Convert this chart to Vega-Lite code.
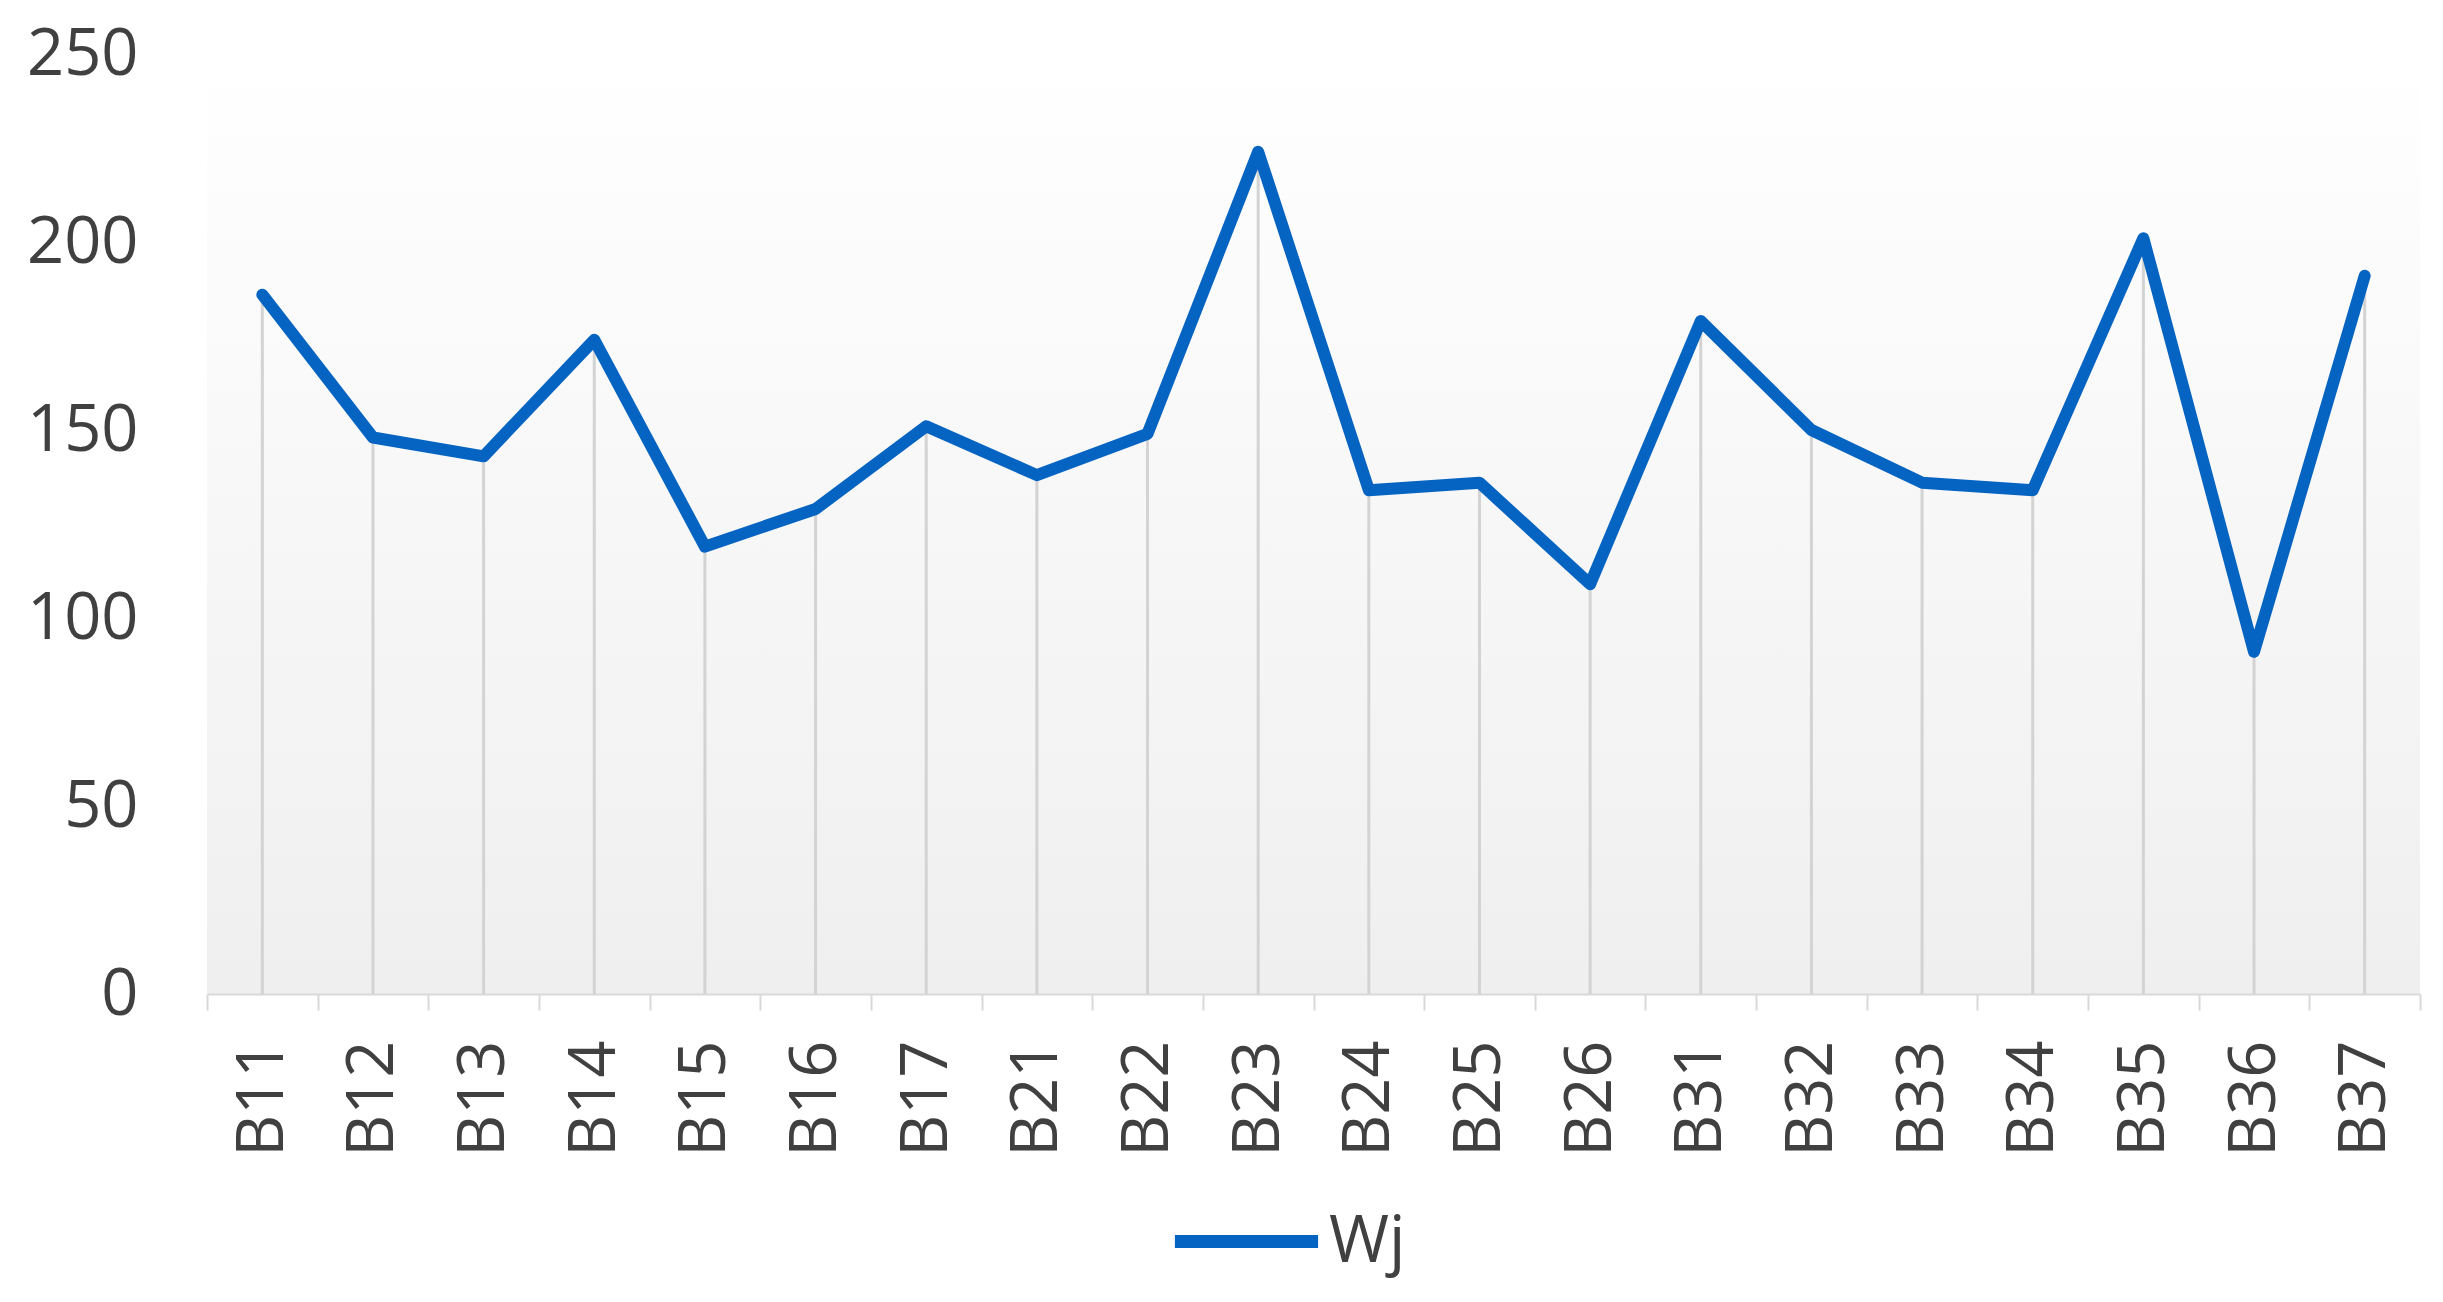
{
  "$schema": "https://vega.github.io/schema/vega-lite/v6.json",
  "autosize": "none",
  "width": 2213,
  "height": 940,
  "padding": {"left": 207, "top": 54, "right": 23, "bottom": 308},
  "background": "white",
  "config": {
    "view": {"stroke": null, "fill": {"gradient": "linear", "x1": 0, "y1": 0, "x2": 0, "y2": 1, "stops": [{"offset": 0, "color": "#ffffff"}, {"offset": 1, "color": "#efefef"}]}},
    "font": "Open Sans"
  },
  "data": {
    "values": [
      {"cat": "B11", "Wj": 186, "series": "Wj"},
      {"cat": "B12", "Wj": 148, "series": "Wj"},
      {"cat": "B13", "Wj": 143, "series": "Wj"},
      {"cat": "B14", "Wj": 174, "series": "Wj"},
      {"cat": "B15", "Wj": 119, "series": "Wj"},
      {"cat": "B16", "Wj": 129, "series": "Wj"},
      {"cat": "B17", "Wj": 151, "series": "Wj"},
      {"cat": "B21", "Wj": 138, "series": "Wj"},
      {"cat": "B22", "Wj": 149, "series": "Wj"},
      {"cat": "B23", "Wj": 224, "series": "Wj"},
      {"cat": "B24", "Wj": 134, "series": "Wj"},
      {"cat": "B25", "Wj": 136, "series": "Wj"},
      {"cat": "B26", "Wj": 109, "series": "Wj"},
      {"cat": "B31", "Wj": 179, "series": "Wj"},
      {"cat": "B32", "Wj": 150, "series": "Wj"},
      {"cat": "B33", "Wj": 136, "series": "Wj"},
      {"cat": "B34", "Wj": 134, "series": "Wj"},
      {"cat": "B35", "Wj": 201, "series": "Wj"},
      {"cat": "B36", "Wj": 91, "series": "Wj"},
      {"cat": "B37", "Wj": 191, "series": "Wj"}
    ]
  },
  "encoding": {
    "x": {
      "field": "cat", "type": "nominal", "sort": null, "title": null,
      "scale": {"type": "band", "paddingInner": 0, "paddingOuter": 0},
      "axis": {
        "labelAngle": -90, "labelAlign": "right", "labelBaseline": "middle",
        "labelFontSize": 65, "labelColor": "#404040", "labelFont": "Open Sans",
        "labelPadding": 30,
        "domainColor": "#d9d9d9", "domainWidth": 2,
        "tickColor": "#d9d9d9", "tickWidth": 2, "tickSize": 16,
        "tickBand": "extent", "grid": false
      }
    }
  },
  "layer": [
    {
      "mark": {"type": "rule", "color": "#d3d3d3", "strokeWidth": 3},
      "encoding": {
        "y": {"field": "Wj", "type": "quantitative"},
        "y2": {"datum": 0}
      }
    },
    {
      "mark": {"type": "line", "strokeWidth": 12, "strokeCap": "round", "strokeJoin": "round"},
      "encoding": {
        "y": {
          "field": "Wj", "type": "quantitative", "title": null,
          "scale": {"domain": [0, 250], "nice": false},
          "axis": {
            "values": [0, 50, 100, 150, 200, 250],
            "domain": false, "ticks": false, "grid": false,
            "labelFontSize": 65, "labelColor": "#404040", "labelFont": "Open Sans",
            "labelPadding": 69
          }
        },
        "color": {
          "field": "series", "type": "nominal",
          "scale": {"range": ["#0563C1"]},
          "legend": {
            "title": null, "orient": "none", "legendX": 961, "legendY": 1109,
            "symbolType": "stroke", "symbolSize": 20500, "symbolStrokeWidth": 13,
            "labelFontSize": 65, "labelColor": "#404040", "labelFont": "Open Sans",
            "labelOffset": 4
          }
        }
      }
    }
  ]
}
